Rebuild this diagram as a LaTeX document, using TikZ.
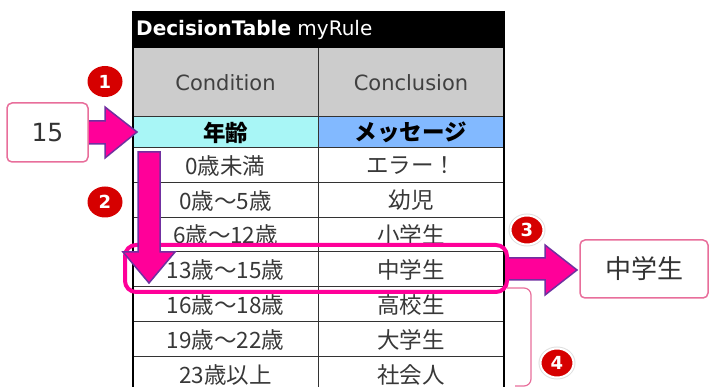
\documentclass[tikz,border=0pt]{standalone}
\usepackage{fontspec}
\setmainfont{Noto Sans CJK JP}
\newfontfamily\latinfont{DejaVu Sans}
\usetikzlibrary{positioning,shapes.geometric}

\begin{document}
\begin{tikzpicture}[x=1pt, y=-1pt,
    hdtext/.style={inner sep=0pt, text=black!75, font=\latinfont\fontsize{21}{21}\selectfont},
    typetext/.style={inner sep=0pt, text=black, font=\fontsize{22.5}{22.5}\selectfont\bfseries},
    rowtext/.style={inner sep=0pt, text=black!78, font=\fontsize{22.5}{22.5}\selectfont},
    gridline/.style={draw=black!80, line width=1pt},
    fatarrow/.style={fill=hotpink, draw=arrowpurple, line width=1.5pt, line join=miter},
    hilite/.style={draw=hotpink, line width=4pt, rounded corners=11pt},
    valbox/.style={draw=boxpink, fill=white, line width=1.5pt, rounded corners=5pt, inner sep=0pt, text=black!80},
    badge/.style={ellipse, fill=badgered, text=white, minimum width=35pt, minimum height=31pt, inner sep=0pt, font=\latinfont\bfseries\fontsize{18}{18}\selectfont},
    haloed/.style={badge, minimum width=33pt, minimum height=29pt, draw=white, line width=2pt, preaction={draw=black!12, line width=4pt}}]
      \definecolor{hotpink}{RGB}{255,0,153}
      \definecolor{arrowpurple}{RGB}{112,48,160}
      \definecolor{boxpink}{RGB}{232,110,155}
      \definecolor{badgered}{RGB}{214,0,0}
      \definecolor{hdgray}{RGB}{204,204,204}
      \definecolor{agecyan}{RGB}{168,246,246}
      \definecolor{msgblue}{RGB}{130,185,255}
      \useasboundingbox (0,0) rectangle (710,387);
      \clip (0,0) rectangle (710,387);

      \fill[black] (133,11) rectangle (504,48);
      \fill[hdgray] (133,48) rectangle (504,117);
      \fill[agecyan] (133,117) rectangle (318,148);
      \fill[msgblue] (318,117) rectangle (504,148);
      \draw[gridline] (133,117) -- (504,117);
      \draw[gridline] (133,148) -- (504,148);
      \draw[gridline] (133,183) -- (504,183);
      \draw[gridline] (133,218) -- (504,218);
      \draw[gridline] (133,252) -- (504,252);
      \draw[gridline] (133,287) -- (504,287);
      \draw[gridline] (133,322) -- (504,322);
      \draw[gridline] (133,357) -- (504,357);
      \draw[gridline] (318,48) -- (318,395);
      \draw[black, line width=1.3pt] (133,11) -- (133,395);
      \draw[black, line width=1.3pt] (504,11) -- (504,395);

      \node[anchor=west, inner sep=0pt, text=white, font=\latinfont\fontsize{20}{20}\selectfont] (title) at (136,29.5) {\textbf{DecisionTable} myRule};
      \node[hdtext] (cond) at (225.5,82.5) {Condition};
      \node[hdtext] (concl) at (411,82.5) {Conclusion};
      \node[typetext] (age) at (225.5,132.5) {年齢};
      \node[typetext] (msg) at (411,132.5) {メッセージ};

      \node[rowtext] (c1) at (225.5,165.5) {0歳未満};
      \node[rowtext] (m1) at (411,165.5) {エラー！};
      \node[rowtext] (c2) at (225.5,200.5) {0歳〜5歳};
      \node[rowtext] (m2) at (411,200.5) {幼児};
      \node[rowtext] (c3) at (225.5,235) {6歳〜12歳};
      \node[rowtext] (m3) at (411,235) {小学生};
      \node[rowtext] (c4) at (225.5,269.5) {13歳〜15歳};
      \node[rowtext] (m4) at (411,269.5) {中学生};
      \node[rowtext] (c5) at (225.5,304.5) {16歳〜18歳};
      \node[rowtext] (m5) at (411,304.5) {高校生};
      \node[rowtext] (c6) at (225.5,339.5) {19歳〜22歳};
      \node[rowtext] (m6) at (411,339.5) {大学生};
      \node[rowtext] (c7) at (225.5,374.5) {23歳以上};
      \node[rowtext] (m7) at (411,374.5) {社会人};

      \draw[fatarrow] (507,258) -- (545,258) -- (545,245) -- (577,270) -- (545,295) -- (545,280) -- (507,280) -- cycle;
      \draw[hilite] (125,245) rectangle (507,292);
      \draw[fatarrow] (138,152) -- (160,152) -- (160,252) -- (175,252) -- (149,283) -- (123,252) -- (138,252) -- cycle;
      \draw[fatarrow] (88,121) -- (105,121) -- (105,107) -- (137,132) -- (105,158) -- (105,144) -- (88,144) -- cycle;
      \draw[boxpink, line width=1.2pt, rounded corners=7pt] (507,288) -- (531,288) -- (531,386) -- (515,386);

      \node[valbox, minimum width=81pt, minimum height=59pt, font=\latinfont\fontsize{25}{25}\selectfont] (inval) at (47.5,132.5) {15};
      \node[valbox, minimum width=128pt, minimum height=58pt, font=\fontsize{26}{26}\selectfont] (outval) at (644,269) {中学生};

      \node[badge] (n1) at (105,81.5) {1};
      \node[badge] (n2) at (105,202) {2};
      \node[haloed] (n3) at (527,230) {3};
      \node[haloed] (n4) at (557,363) {4};
    \end{tikzpicture}
\end{document}
